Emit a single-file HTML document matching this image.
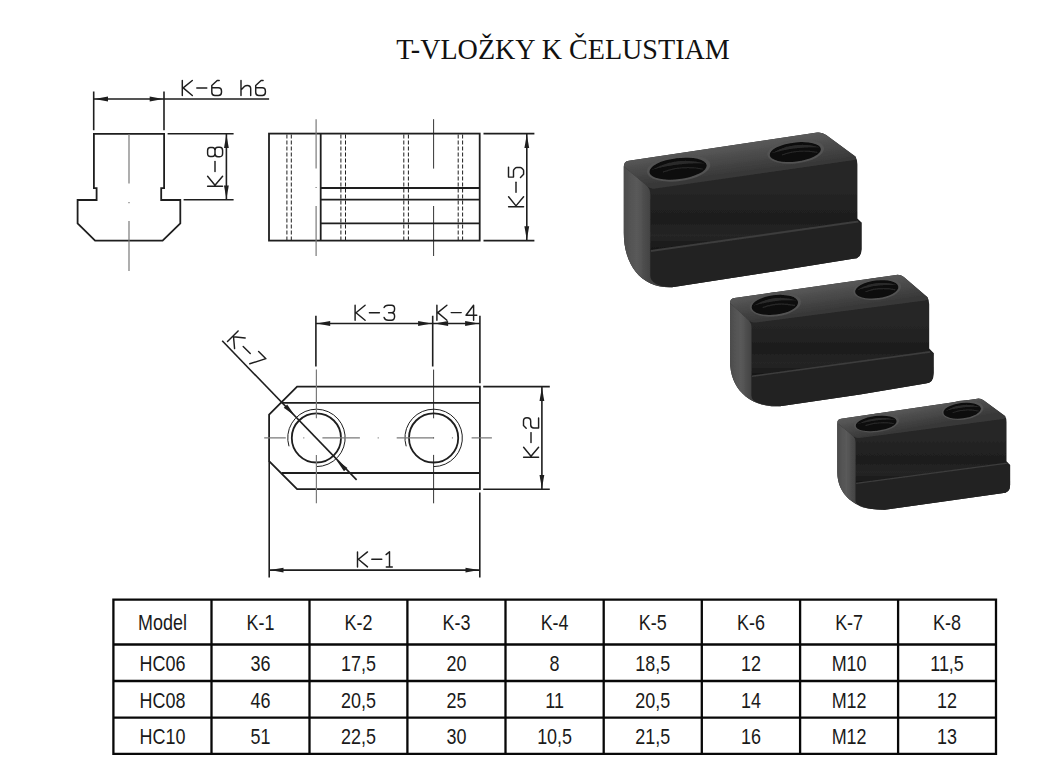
<!DOCTYPE html>
<html><head><meta charset="utf-8">
<style>
html,body{margin:0;padding:0;background:#fff;width:1039px;height:781px;overflow:hidden}
svg{position:absolute;left:0;top:0}
</style></head>
<body>
<svg width="1039" height="781" viewBox="0 0 1039 781">
<defs>
<g id="gK"><path d="M0,0V-15M10,-15L0.9,-7.6L10,0"/></g>
<g id="gD"><path d="M0,-7.6H10"/></g>
<g id="g1"><path d="M-0.6,-12.3L2.8,-15.2V0M-0.4,0H5.6"/></g>
<g id="g2"><path d="M-0.2,-12.4L2.4,-15.1H7Q10.2,-15.1 10.2,-11.6Q10.2,-7.9 6.8,-7.9H3.2Q0,-7.9 0,-4.8V0H10"/></g>
<g id="g3"><path d="M0,-12.8Q1,-15 4,-15H7.3Q10.5,-15 10.5,-11.5Q10.5,-7.6 7.3,-7.6H4.5M7.3,-7.6Q10.5,-7.6 10.5,-4Q10.5,0 7.3,0H4Q1,0 0,-2.8"/></g>
<g id="g4"><path d="M7.7,0V-15L0.1,-5H10.9"/></g>
<g id="g5"><path d="M10.5,-15.1H0.5V-10.1H6.8Q7.6,-10.1 8.4,-9.4L9.6,-8.2Q10.2,-7.6 10.2,-6.8V-3.4Q10.2,-2.6 9.6,-2L8,-0.5Q7.5,0 6.8,0H3.4L0.2,-3.1"/></g>
<g id="g6"><path d="M7.6,-15H5.6L0.2,-10V-3.2Q0.2,0 3.2,0H6.8Q9.9,0 9.9,-3.2V-4.6Q9.9,-7.7 6.8,-7.7H0.2"/></g>
<g id="g7"><path d="M0,-15H10.3L2.5,0"/></g>
<g id="g8"><path d="M3.4,-7.6H6.6Q9.5,-7.6 9.5,-10.3V-12.3Q9.5,-15 6.6,-15H3.4Q0.5,-15 0.5,-12.3V-10.3Q0.5,-7.6 3.4,-7.6ZM3.4,-7.6Q0.3,-7.6 0.3,-4.7V-2.9Q0.3,0 3.4,0H6.6Q9.7,0 9.7,-2.9V-4.7Q9.7,-7.6 6.6,-7.6"/></g>
<g id="gh"><path d="M0,-15V0M0,-5.5L3.6,-9.2Q4.6,-10.1 6.3,-10.1Q9.7,-10.1 9.7,-6.8V0"/></g>
<path id="arr" d="M-0.8,0L-14.3,-2.4L-14.3,2.4Z"/>
</defs>

<!-- title -->
<text x="0" y="0" transform="translate(563,58.7) scale(0.937,1)" text-anchor="middle" font-family="Liberation Serif" font-size="30" fill="#111">T-VLOŽKY K ČELUSTIAM</text>

<g fill="none" stroke="#1e1e1e" stroke-linecap="round" stroke-linejoin="round">
<!-- CAD texts -->
<g stroke-width="1.45">
 <g transform="translate(182.3,95.5)"><use href="#gK"/><use href="#gD" x="14.5"/><use href="#g6" x="29.3"/><use href="#gh" x="58.7"/><use href="#g6" x="73.2"/></g>
 <g transform="translate(222.6,186.2) rotate(-90)"><use href="#gK"/><use href="#gD" x="14.6"/><use href="#g8" x="29.2"/></g>
 <g transform="translate(523.6,206.8) rotate(-90)"><use href="#gK"/><use href="#gD" x="14.6"/><use href="#g5" x="29.2"/></g>
 <g transform="translate(355.1,320.3)"><use href="#gK"/><use href="#gD" x="14.3"/><use href="#g3" x="29"/></g>
 <g transform="translate(436.9,320.2)"><use href="#gK"/><use href="#gD" x="14.3"/><use href="#g4" x="29"/></g>
 <g transform="translate(538.6,457.2) rotate(-90)"><use href="#gK"/><use href="#gD" x="14.6"/><use href="#g2" x="29.2"/></g>
 <g transform="translate(357.5,566.9)"><use href="#gK"/><use href="#gD" x="14.3"/><use href="#g1" x="29.2"/></g>
 <g transform="translate(227.5,341.5) rotate(45)"><use href="#gK"/><use href="#gD" x="14.6"/><use href="#g7" x="29"/></g>
</g>

<!-- drawing 1: T profile -->
<path stroke-width="1.8" stroke-linecap="butt" stroke-linejoin="miter" d="M93.9,133.8V188.1H96.6V200H77.6V223.4L95.1,240.7H162.6L180.3,223.4V200H161.2V188.1H164.1V133.8Z"/>
<g stroke-width="1.6" stroke-linecap="butt">
 <path d="M93.7,91.4V130.3M164,91.4V130.3M93.7,99H269.1"/>
 <path d="M167.6,133.8H233.6M183.6,199.8H233.6M226.4,133.8V199.8"/>
</g>
<path stroke="#7a7a7a" stroke-width="1.2" stroke-linecap="butt" d="M129,134V183.5M129,202V203.2M129,221V271"/>

<!-- drawing 2: side view -->
<g stroke-width="1.8" stroke-linecap="butt" stroke-linejoin="miter">
 <rect x="269" y="133.6" width="210.7" height="107"/>
 <path d="M320.7,133.6V240.6M320.7,188H479.7M320.7,199.7H479.7M320.7,223.3H479.7"/>
</g>
<path stroke-width="1" stroke-dasharray="4,2" stroke-linecap="butt" d="M286.9,134.5V240M291.3,134.5V240M340.9,134.5V240M345.5,134.5V240M403.8,134.5V240M408.4,134.5V240M458.2,134.5V240M462.6,134.5V240"/>
<path stroke="#7a7a7a" stroke-width="1.2" stroke-linecap="butt" d="M316.1,119.2V168.6M316.1,187V188M316.1,206V256"/>
<path stroke-width="0.9" stroke-linecap="butt" d="M433.6,119.2V168.6M433.6,206V256"/>
<g stroke-width="1.6" stroke-linecap="butt">
 <path d="M483.5,133.6H534.4M483.5,240.6H534.4M526.8,133.6V240.6"/>
</g>

<!-- drawing 3: top view -->
<g stroke-width="1.8" stroke-linecap="butt" stroke-linejoin="miter">
 <path d="M297.1,386.6H479.9V489.2H297.1L269.1,461.2V414.6Z"/>
 <path d="M281.6,402.9H479.9M281.6,473H479.9"/>
 <circle cx="316.4" cy="437.9" r="24.6"/>
 <circle cx="433.6" cy="437.9" r="24.6"/>
</g>
<g stroke-width="1" stroke-linecap="butt">
 <path d="M316.4,466.6A28.7,28.7 0 1 0 289,446.3"/>
 <path d="M433.6,466.6A28.7,28.7 0 1 0 406.2,446.3"/>
</g>
<path stroke="#7a7a7a" stroke-width="1.2" stroke-linecap="butt" d="M264.2,437.9H285.8M303.3,437.9H304.3M322.4,437.9H359.9M377.7,437.9H378.7M396.7,437.9H433.6M451.9,437.9H452.9M471.6,437.9H491.9M316.4,369.6V418.3M316.4,454.9V503.3"/>
<path stroke-width="0.9" stroke-linecap="butt" d="M433.6,369.6V418.3M433.6,454.9V503.3M433.6,437.4V438.4"/>
<g stroke-width="1.6" stroke-linecap="butt">
 <path d="M315.9,315.8V366.6M432.7,315.8V366.6M479.9,315.8V383.2M315.9,323.5H479.9"/>
 <path d="M483.2,386.6H549.8M483.2,489.2H549.8M541.9,386.6V489.2"/>
 <path d="M269.2,461.2V577.4M479.8,492.5V577.4M269.2,570.1H479.8"/>
 <path d="M222.2,340.8L356.6,479.9"/>
</g>
</g>

<!-- arrows -->
<g fill="#1e1e1e">
 <use href="#arr" transform="translate(93.7,99) rotate(180)"/>
 <use href="#arr" transform="translate(164,99)"/>
 <use href="#arr" transform="translate(226.4,133.8) rotate(-90)"/>
 <use href="#arr" transform="translate(226.4,199.8) rotate(90)"/>
 <use href="#arr" transform="translate(526.8,133.6) rotate(-90)"/>
 <use href="#arr" transform="translate(526.8,240.6) rotate(90)"/>
 <use href="#arr" transform="translate(315.9,323.5) rotate(180)"/>
 <use href="#arr" transform="translate(432.4,323.5)"/>
 <use href="#arr" transform="translate(433.8,323.5) rotate(180)"/>
 <use href="#arr" transform="translate(479.4,323.5)"/>
 <use href="#arr" transform="translate(541.9,386.6) rotate(-90)"/>
 <use href="#arr" transform="translate(541.9,489.2) rotate(90)"/>
 <use href="#arr" transform="translate(269.2,570.1) rotate(180)"/>
 <use href="#arr" transform="translate(479.8,570.1)"/>
 <use href="#arr" transform="translate(295.4,416.4) rotate(46)"/>
 <use href="#arr" transform="translate(335.8,459.4) rotate(226)"/>
</g>

<!-- PHOTO -->
<g id="photo"><defs><linearGradient id="tp0" gradientUnits="userSpaceOnUse" x1="723.0" y1="143.7" x2="727.0" y2="174.35"><stop offset="0" stop-color="#5c5c5c"/><stop offset="1" stop-color="#383838"/></linearGradient><linearGradient id="lf0" gradientUnits="userSpaceOnUse" x1="623.8" y1="0" x2="650.3" y2="0"><stop offset="0" stop-color="#4c4c4c"/><stop offset="0.5" stop-color="#5a5a5a"/><stop offset="1" stop-color="#424242"/></linearGradient><linearGradient id="fr0" gradientUnits="userSpaceOnUse" x1="0" y1="189.2" x2="0" y2="251"><stop offset="0" stop-color="#262626"/><stop offset="0.5" stop-color="#1d1d1d"/><stop offset="0.75" stop-color="#252525"/><stop offset="1" stop-color="#161616"/></linearGradient><linearGradient id="tp1" gradientUnits="userSpaceOnUse" x1="815.2" y1="283.54999999999995" x2="819.2" y2="311.45000000000005"><stop offset="0" stop-color="#5c5c5c"/><stop offset="1" stop-color="#383838"/></linearGradient><linearGradient id="lf1" gradientUnits="userSpaceOnUse" x1="730" y1="0" x2="751.5" y2="0"><stop offset="0" stop-color="#4c4c4c"/><stop offset="0.5" stop-color="#5a5a5a"/><stop offset="1" stop-color="#424242"/></linearGradient><linearGradient id="fr1" gradientUnits="userSpaceOnUse" x1="0" y1="323.1" x2="0" y2="376.2"><stop offset="0" stop-color="#262626"/><stop offset="0.5" stop-color="#1d1d1d"/><stop offset="0.75" stop-color="#252525"/><stop offset="1" stop-color="#161616"/></linearGradient><linearGradient id="tp2" gradientUnits="userSpaceOnUse" x1="909.0999999999999" y1="405.75" x2="913.0999999999999" y2="428.4"><stop offset="0" stop-color="#5c5c5c"/><stop offset="1" stop-color="#383838"/></linearGradient><linearGradient id="lf2" gradientUnits="userSpaceOnUse" x1="837.3" y1="0" x2="855.6" y2="0"><stop offset="0" stop-color="#4c4c4c"/><stop offset="0.5" stop-color="#5a5a5a"/><stop offset="1" stop-color="#424242"/></linearGradient><linearGradient id="fr2" gradientUnits="userSpaceOnUse" x1="0" y1="438.5" x2="0" y2="483.3"><stop offset="0" stop-color="#262626"/><stop offset="0.5" stop-color="#1d1d1d"/><stop offset="0.75" stop-color="#252525"/><stop offset="1" stop-color="#161616"/></linearGradient><filter id="soft" x="-5%" y="-5%" width="110%" height="110%"><feGaussianBlur stdDeviation="0.6"/></filter></defs><g filter="url(#soft)"><path d="M623.8,166.5 Q623.8,161.5 628.8,160.8 L817.2,132.5 Q822.2,131.9 826.2,134.9 L855.4,156.5 Q857.4,159.5 857.4,164.5 V218.4 L861.5,222.5 V249 Q861.5,258.8 853,258.8 L780,270.4 L672,287.3 C642.116,288.8 623.8,265.58 623.8,233 Z" fill="url(#fr0)"/>
<path d="M623.8,166.5 Q623.8,161.5 628.8,160.8 L817.2,132.5 Q822.2,131.9 826.2,134.9 L855.4,156.5 Q857.4,159.5 852.4,160.3 L655.3,188.5 Q650.3,189.2 647.3,186.2 Z" fill="url(#tp0)"/>
<path d="M650.3,251 L857.4,221.5 L861.5,222.5 V249 Q861.5,258.8 853,258.8 L780,270.4 L672,287.3 Q650.3,286.3 650.3,275.3 Z" fill="#232323"/>
<path d="M623.8,166.5 L647.3,186.2 Q650.3,189.2 650.3,194.2 V275.3 Q650.3,286.3 672,287.3 C642.116,288.8 623.8,265.58 623.8,233 Z" fill="url(#lf0)"/>
<path d="M650.8,251 L858.4,221.5" stroke="#3c3c3c" stroke-width="1.80" fill="none"/>
<g transform="translate(678.5,168.1) rotate(-7)"><ellipse rx="32.0" ry="13.1" fill="#525252"/><ellipse cx="-0.5" cy="0.5" rx="28.8" ry="10.5" fill="#0b0b0b"/><path d="M-27.2,-1.3 Q0.0,-12.4 27.2,-1.3 Q0.0,-5.9 -27.2,-1.3Z" fill="#2c2c2c"/><path d="M-16.0,2.0 Q3.2,-2.6 24.0,3.9" stroke="#262626" stroke-width="1.3" fill="none"/></g>
<g transform="translate(795.7,151.5) rotate(-7)"><ellipse rx="28.6" ry="11.9" fill="#525252"/><ellipse cx="-0.5" cy="0.5" rx="25.7" ry="9.5" fill="#0b0b0b"/><path d="M-24.3,-1.2 Q0.0,-11.3 24.3,-1.2 Q0.0,-5.4 -24.3,-1.2Z" fill="#2c2c2c"/><path d="M-14.3,1.8 Q2.9,-2.4 21.5,3.6" stroke="#262626" stroke-width="1.3" fill="none"/></g>
<path d="M730,303.05 Q730,298.7 734.35,298.091 L896.05,274.92199999999997 Q900.4,274.4 903.88,277.01 L927.46,297.19 Q929.2,299.8 929.2,304.15000000000003 V348.6 L933.6,353.0 V373 Q933.6,383.4 925.5,383.4 L860,394.5 L780,406.3 C749.0,407.605 730,388.18 730,361 Z" fill="url(#fr1)"/>
<path d="M730,303.05 Q730,298.7 734.35,298.091 L896.05,274.92199999999997 Q900.4,274.4 903.88,277.01 L927.46,297.19 Q929.2,299.8 924.85,300.49600000000004 L755.85,322.49100000000004 Q751.5,323.1 748.89,320.49 Z" fill="url(#tp1)"/>
<path d="M751.5,376.2 L929.2,351.9 L933.6,353.0 V373 Q933.6,383.4 925.5,383.4 L860,394.5 L780,406.3 Q751.5,405.43 751.5,395.86 Z" fill="#232323"/>
<path d="M730,303.05 L748.89,320.49 Q751.5,323.1 751.5,327.45000000000005 V395.86 Q751.5,405.43 780,406.3 C749.0,407.605 730,388.18 730,361 Z" fill="url(#lf1)"/>
<path d="M752.0,376.2 L930.2,351.9" stroke="#3c3c3c" stroke-width="1.57" fill="none"/>
<g transform="translate(775.3,304.3) rotate(-7)"><ellipse rx="25.9" ry="12.1" fill="#525252"/><ellipse cx="-0.5" cy="0.5" rx="23.3" ry="9.7" fill="#0b0b0b"/><path d="M-22.0,-1.2 Q0.0,-11.5 22.0,-1.2 Q0.0,-5.4 -22.0,-1.2Z" fill="#2c2c2c"/><path d="M-12.9,1.8 Q2.6,-2.4 19.4,3.6" stroke="#262626" stroke-width="1.3" fill="none"/></g>
<g transform="translate(877.2,288.8) rotate(-7)"><ellipse rx="24.1" ry="11.0" fill="#525252"/><ellipse cx="-0.5" cy="0.5" rx="21.7" ry="8.8" fill="#0b0b0b"/><path d="M-20.5,-1.1 Q0.0,-10.4 20.5,-1.1 Q0.0,-5.0 -20.5,-1.1Z" fill="#2c2c2c"/><path d="M-12.1,1.6 Q2.4,-2.2 18.1,3.3" stroke="#262626" stroke-width="1.3" fill="none"/></g>
<path d="M837.3,423.05 Q837.3,419.3 841.05,418.77500000000003 L977.15,398.65 Q980.9,398.2 983.9,400.45 L1005.0,416.05 Q1006.5,418.3 1006.5,422.05 V461.3 L1010.1,465.0 V485.1 Q1010.1,493.3 1001.9,493.3 L940,502 L884.9,509.8 C855.3879999999999,510.925 837.3,494.8 837.3,472.3 Z" fill="url(#fr2)"/>
<path d="M837.3,423.05 Q837.3,419.3 841.05,418.77500000000003 L977.15,398.65 Q980.9,398.2 983.9,400.45 L1005.0,416.05 Q1006.5,418.3 1002.75,418.90000000000003 L859.35,437.975 Q855.6,438.5 853.35,436.25 Z" fill="url(#tp2)"/>
<path d="M855.6,483.3 L1006.5,463.2 L1010.1,465.0 V485.1 Q1010.1,493.3 1001.9,493.3 L940,502 L884.9,509.8 Q855.6,509.05 855.6,500.8 Z" fill="#232323"/>
<path d="M837.3,423.05 L853.35,436.25 Q855.6,438.5 855.6,442.25 V500.8 Q855.6,509.05 884.9,509.8 C855.3879999999999,510.925 837.3,494.8 837.3,472.3 Z" fill="url(#lf2)"/>
<path d="M856.1,483.3 L1007.5,463.2" stroke="#3c3c3c" stroke-width="1.35" fill="none"/>
<g transform="translate(876.6,422.9) rotate(-7)"><ellipse rx="22.8" ry="9.2" fill="#525252"/><ellipse cx="-0.5" cy="0.5" rx="20.5" ry="7.4" fill="#0b0b0b"/><path d="M-19.4,-0.9 Q0.0,-8.7 19.4,-0.9 Q0.0,-4.1 -19.4,-0.9Z" fill="#2c2c2c"/><path d="M-11.4,1.4 Q2.3,-1.8 17.1,2.8" stroke="#262626" stroke-width="1.3" fill="none"/></g>
<g transform="translate(962.6,410.1) rotate(-7)"><ellipse rx="20.9" ry="9.6" fill="#525252"/><ellipse cx="-0.5" cy="0.5" rx="18.8" ry="7.7" fill="#0b0b0b"/><path d="M-17.8,-1.0 Q0.0,-9.1 17.8,-1.0 Q0.0,-4.3 -17.8,-1.0Z" fill="#2c2c2c"/><path d="M-10.4,1.4 Q2.1,-1.9 15.7,2.9" stroke="#262626" stroke-width="1.3" fill="none"/></g></g></g>

<!-- TABLE -->
<g id="table">
<path d="M113.4,598.5500000000001V754.9499999999999M211.5,598.5500000000001V754.9499999999999M309.5,598.5500000000001V754.9499999999999M407.4,598.5500000000001V754.9499999999999M505.5,598.5500000000001V754.9499999999999M603.7,598.5500000000001V754.9499999999999M701.8,598.5500000000001V754.9499999999999M800.1,598.5500000000001V754.9499999999999M898.1,598.5500000000001V754.9499999999999M996.0,598.5500000000001V754.9499999999999M112.25,599.7H997.15M112.25,644.5H997.15M112.25,681.0H997.15M112.25,717.6H997.15M112.25,753.8H997.15" stroke="#080808" stroke-width="2.3" fill="none"/>
<g transform="scale(0.835,1)" font-family="Liberation Sans" font-size="21.5" fill="#1a1a1a" text-anchor="middle">
<text x="194.6" y="630.5">Model</text>
<text x="312.0" y="630.5">K-1</text>
<text x="429.3" y="630.5">K-2</text>
<text x="546.6" y="630.5">K-3</text>
<text x="664.2" y="630.5">K-4</text>
<text x="781.7" y="630.5">K-5</text>
<text x="899.3" y="630.5">K-6</text>
<text x="1016.9" y="630.5">K-7</text>
<text x="1134.2" y="630.5">K-8</text>
<text x="194.6" y="671.2">HC06</text>
<text x="312.0" y="671.2">36</text>
<text x="429.3" y="671.2">17,5</text>
<text x="546.6" y="671.2">20</text>
<text x="664.2" y="671.2">8</text>
<text x="781.7" y="671.2">18,5</text>
<text x="899.3" y="671.2">12</text>
<text x="1016.9" y="671.2">M10</text>
<text x="1134.2" y="671.2">11,5</text>
<text x="194.6" y="707.8">HC08</text>
<text x="312.0" y="707.8">46</text>
<text x="429.3" y="707.8">20,5</text>
<text x="546.6" y="707.8">25</text>
<text x="664.2" y="707.8">11</text>
<text x="781.7" y="707.8">20,5</text>
<text x="899.3" y="707.8">14</text>
<text x="1016.9" y="707.8">M12</text>
<text x="1134.2" y="707.8">12</text>
<text x="194.6" y="744.0">HC10</text>
<text x="312.0" y="744.0">51</text>
<text x="429.3" y="744.0">22,5</text>
<text x="546.6" y="744.0">30</text>
<text x="664.2" y="744.0">10,5</text>
<text x="781.7" y="744.0">21,5</text>
<text x="899.3" y="744.0">16</text>
<text x="1016.9" y="744.0">M12</text>
<text x="1134.2" y="744.0">13</text>
</g></g>
</svg>
</body></html>
